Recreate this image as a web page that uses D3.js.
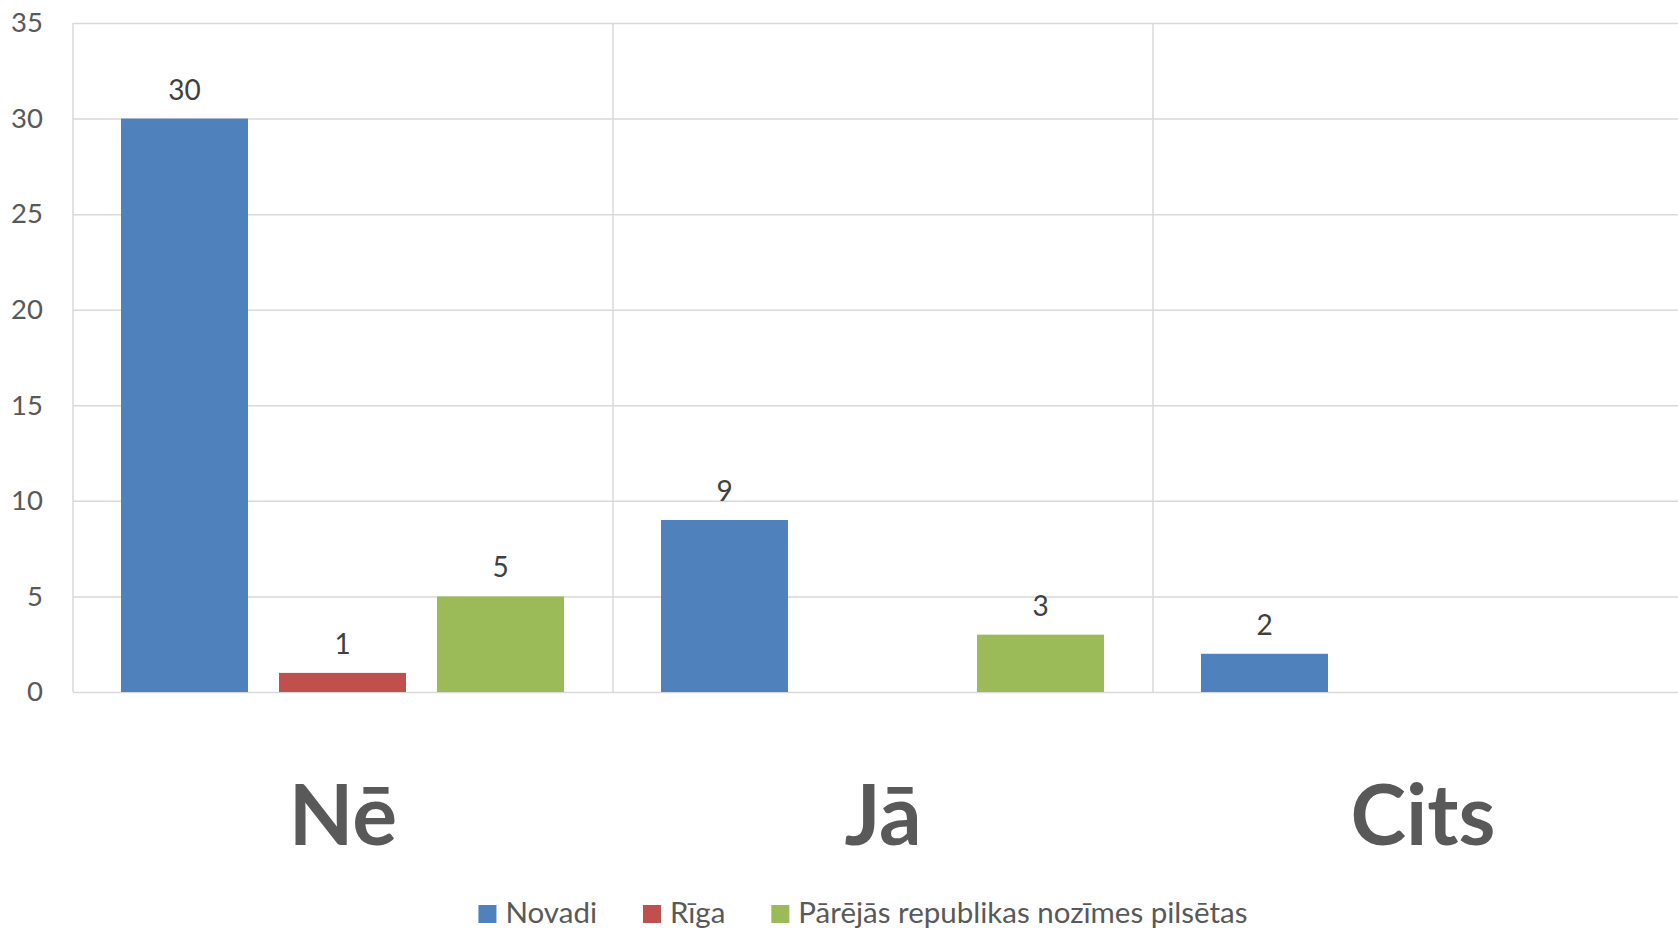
<!DOCTYPE html>
<html>
	<head>
		<meta charset="UTF-8">
		<title>Nē / Jā / Cits</title>
		<script type="text/javascript" src="https://cdn.jsdelivr.net/npm/d3@7/dist/d3.min.js"></script>
		<style>
			body { margin: 0; background: #fff; }
			svg { display: block; font-family: Lato, "Open Sans", sans-serif; }
		</style>
	</head>
	<body>
		<script type="text/javascript">
			// dati
			var categories = ["Nē", "Jā", "Cits"];
			var seriesNames = ["Novadi", "Rīga", "Pārējās republikas nozīmes pilsētas"];
			var seriesColors = ["#4f81bd", "#c0504d", "#9bbb59"];
			var novadi = [30, 9, 2];
			var riga = [1, null, null];
			var parejas = [5, 3, null];
			var yTicks = [0, 5, 10, 15, 20, 25, 30, 35];

			var width = 1678, height = 931;
			var plotLeft = 73, plotTop = 23, plotBottom = 692;
			var bandW = 540;

			var svg = d3.select("body")
				.append("svg")
				.attr("width", width)
				.attr("height", height);

			var x0 = d3.scaleBand()
				.domain(categories)
				.range([plotLeft, plotLeft + bandW * categories.length]);

			var x1 = d3.scaleBand()
				.domain(seriesNames)
				.range([48, 491])
				.paddingInner(31 / 158);

			var y = d3.scaleLinear()
				.domain([0, 35])
				.range([plotBottom, plotTop]);

			var color = d3.scaleOrdinal().domain(seriesNames).range(seriesColors);

			// horizontālās režģa līnijas + y ass
			var yAxis = svg.append("g")
				.attr("transform", "translate(" + plotLeft + ",0)")
				.call(d3.axisLeft(y).tickValues(yTicks).tickSize(-(width - plotLeft)).tickPadding(30));
			yAxis.select(".domain").remove();
			yAxis.selectAll("line").attr("stroke", "#d9d9d9").attr("stroke-width", 1.5);
			yAxis.selectAll("text")
				.attr("fill", "#595959")
				.attr("font-size", 27.5)
				.attr("font-family", "Lato, sans-serif");

			// vertikālās līnijas starp kategorijām
			svg.append("g").selectAll("line")
				.data(categories)
				.enter().append("line")
				.attr("x1", function (d) { return x0(d); })
				.attr("x2", function (d) { return x0(d); })
				.attr("y1", plotTop)
				.attr("y2", plotBottom)
				.attr("stroke", "#d9d9d9")
				.attr("stroke-width", 1.5);

			// stabiņi
			var rows = categories.map(function (c, i) {
				return { cat: c, values: [novadi[i], riga[i], parejas[i]] };
			});

			var groups = svg.append("g").selectAll("g")
				.data(rows)
				.enter().append("g")
				.attr("transform", function (d) { return "translate(" + x0(d.cat) + ",0)"; });

			var cells = groups.selectAll("g")
				.data(function (d) {
					return d.values.map(function (v, j) { return { name: seriesNames[j], value: v }; })
						.filter(function (e) { return e.value; });
				})
				.enter().append("g");

			cells.append("rect")
				.attr("x", function (d) { return x1(d.name); })
				.attr("y", function (d) { return y(d.value); })
				.attr("width", x1.bandwidth())
				.attr("height", function (d) { return y(0) - y(d.value); })
				.attr("fill", function (d) { return color(d.name); });

			cells.append("text")
				.attr("x", function (d) { return x1(d.name) + x1.bandwidth() / 2; })
				.attr("y", function (d) { return y(d.value) - 19; })
				.attr("text-anchor", "middle")
				.attr("font-size", 28)
				.attr("fill", "#404040")
				.text(function (d) { return d.value; });

			// kategoriju nosaukumi
			var xAxis = svg.append("g")
				.attr("transform", "translate(0," + plotBottom + ")")
				.call(d3.axisBottom(x0).tickSize(0).tickPadding(0));
			xAxis.select(".domain").remove();
			xAxis.selectAll("text")
				.attr("y", 153)
				.attr("dy", null)
				.attr("fill", "#595959")
				.attr("font-size", 84)
				.attr("font-weight", "bold")
				.attr("font-family", "Lato, sans-serif");

			// leģenda
			var legend = svg.append("g");
			var lx = 0;
			seriesNames.forEach(function (name, i) {
				var item = legend.append("g").attr("transform", "translate(" + lx + ",0)");
				item.append("rect")
					.attr("x", 0).attr("y", 905)
					.attr("width", 18).attr("height", 18)
					.attr("fill", color(name));
				var t = item.append("text")
					.attr("x", 27).attr("y", 923)
					.attr("font-size", 29.5)
					.attr("fill", "#595959")
					.text(name);
				lx += 27 + t.node().getComputedTextLength() + 46;
			});
			var legendW = lx - 46;
			legend.attr("transform", "translate(" + (863 - legendW / 2) + ",0)");
		</script>
	</body>
</html>
